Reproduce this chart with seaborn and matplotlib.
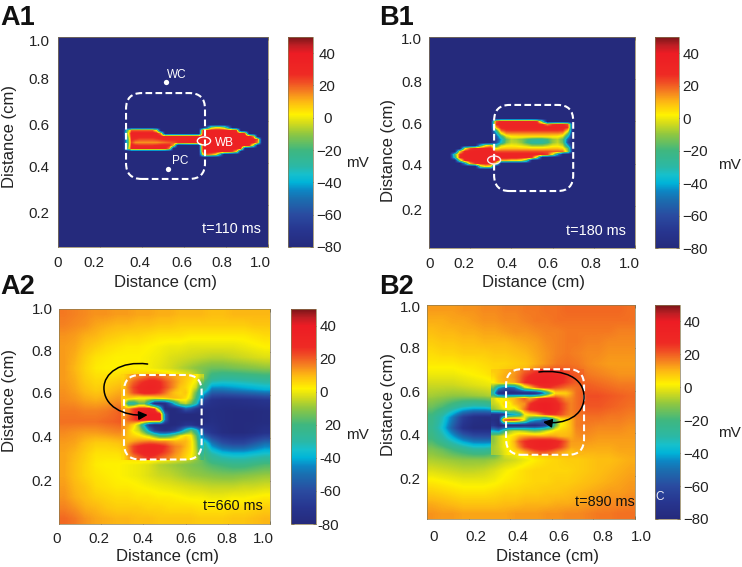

import matplotlib
matplotlib.use('Agg')
import numpy as np
import matplotlib.pyplot as plt
import seaborn as sns
from matplotlib.colors import LinearSegmentedColormap
from matplotlib.patches import FancyBboxPatch, Ellipse, FancyArrowPatch
from matplotlib.path import Path
from matplotlib.transforms import Affine2D

# ------------------------------------------------------------
# DATA (membrane potential in mV, rows run top to bottom)
# ------------------------------------------------------------
N = -80
cbar_values = [40, 20, 0, -20, -40, -60, -80]
cbar_labels = ['40', '20', '0', '\u221220', '\u221240', '\u221260', '\u221280']
cbar_labels_a2 = ['40', '20', '0', '20', '-40', '-60', '-80']
axis_values = [0, 0.2, 0.4, 0.6, 0.8, 1.0]
x_labels = ['0', '0.2', '0.4', '0.6', '0.8', '1.0']
y_values = [1.0, 0.8, 0.6, 0.4, 0.2]
y_labels = ['1.0', '0.8', '0.6', '0.4', '0.2']

resting_field = [[N] * 20] * 20

a1_detail = [
    [N, N, N, N, N, N, N, N, N, N, N, N, N, N, N, N, N, N, N, N, N, N, N, N, N, N, N, N, N, N, N, N, N, N],
    [N, N, N, N, N, N, N, N, N, N, N, N, N, N, N, N, N, N, N, N, -50, -10, 0, 0, -10, -40, N, N, N, N, N, N, N, N],
    [N, -20, 20, 20, 20, 20, 20, 20, 0, N, N, N, N, N, N, N, N, N, N, 28, 34, 34, 34, 34, 34, 34, 32, 24, N, N, N, N, N, N],
    [N, -10, 34, 34, 34, 34, 34, 34, 32, 12, N, N, N, N, N, N, N, N, N, 32, 35, 35, 35, 35, 35, 35, 35, 34, 32, 24, N, N, N, N],
    [N, -20, 32, 32, 30, 30, 30, 30, 32, 32, 30, 32, 32, 32, 32, 32, 32, 32, 32, 34, 35, 35, 35, 35, 35, 35, 35, 35, 35, 34, 32, 15, N, N],
    [N, -30, 28, 25, 22, 22, 22, 22, 24, 26, 28, 28, 28, 28, 30, 30, 32, 32, 32, 34, 35, 35, 35, 35, 35, 35, 35, 35, 35, 35, 34, 32, 20, N],
    [N, -30, 24, 14, 14, 14, 14, 14, 14, 16, 18, 20, 22, 26, 28, 30, 32, 32, 32, 34, 35, 35, 35, 35, 35, 35, 35, 35, 35, 35, 34, 30, 15, N],
    [N, -30, 30, 28, 26, 26, 26, 26, 28, 30, 30, 28, 10, N, N, N, N, N, N, 32, 35, 35, 35, 35, 35, 35, 35, 35, 35, 34, 28, -10, N, N],
    [N, -20, 34, 34, 34, 34, 34, 34, 34, 34, 32, 15, N, N, N, N, N, N, N, 32, 35, 35, 35, 35, 35, 35, 35, 34, 30, N, N, N, N, N],
    [N, N, N, N, N, N, N, N, N, N, N, N, N, N, N, N, N, N, N, 30, 34, 34, 34, 34, 34, 32, 24, 5, N, N, N, N, N, N],
    [N, N, N, N, N, N, N, N, N, N, N, N, N, N, N, N, N, N, N, 5, 20, 15, 5, -30, N, N, N, N, N, N, N, N, N, N],
    [N, N, N, N, N, N, N, N, N, N, N, N, N, N, N, N, N, N, N, N, N, N, N, N, N, N, N, N, N, N, N, N, N, N],
]

b1_detail = [
    [N, N, N, N, N, N, N, N, N, N, N, N, N, N, N, N, N, N, N, N, N, N, N, N, N, N],
    [N, N, N, N, N, N, N, N, N, 20, 30, 30, 30, 30, 30, 30, 30, 25, -20, N, N, N, N, N, N, N],
    [N, N, N, N, N, N, N, N, N, 25, 32, 32, 32, 32, 32, 32, 32, 32, 28, 15, 25, 28, 28, 22, N, N],
    [N, N, N, N, N, N, N, N, N, 10, 30, 32, 32, 32, 32, 32, 32, 32, 32, 32, 32, 32, 32, 25, N, N],
    [N, N, N, N, N, N, N, N, N, -25, 18, 25, 26, 26, 26, 26, 26, 26, 26, 26, 26, 26, 25, 5, N, N],
    [N, N, N, N, N, N, N, N, N, -45, 0, 14, 15, 15, 15, 15, 15, 15, 15, 15, 15, 15, 12, -15, N, N],
    [N, N, N, N, N, N, N, N, N, -60, -25, -2, 3, 4, 5, 5, 5, 5, 5, 5, 4, 3, -2, -35, N, N],
    [N, N, N, N, N, N, N, N, N, -65, -40, -15, -6, -8, -12, -18, -24, -26, -26, -20, -10, -6, -16, -55, N, N],
    [N, N, N, N, N, N, N, N, N, -60, -35, -12, -5, -6, -10, -20, -28, -30, -28, -22, -10, -5, -14, -60, N, N],
    [N, N, N, N, N, N, -30, 0, 10, -30, -5, 0, 1, 0, -2, -5, -10, -10, -10, -6, -1, 0, -5, -40, N, N],
    [N, N, N, 0, 22, 28, 30, 30, 30, 0, 8, 9, 9, 9, 8, 8, 7, 7, 7, 8, 9, 9, 6, -15, N, N],
    [N, N, 5, 30, 32, 33, 33, 33, 33, 22, 22, 22, 22, 22, 22, 22, 22, 22, 22, 22, 20, 20, 18, -10, N, N],
    [N, -20, 25, 33, 33, 33, 33, 33, 33, 32, 32, 32, 32, 32, 32, 32, 32, 32, 30, 25, 0, -40, N, N, N, N],
    [N, -30, 28, 33, 33, 33, 33, 33, 33, 32, 33, 33, 33, 33, 30, 30, 25, -10, N, N, N, N, N, N, N, N],
    [N, N, -10, 28, 32, 33, 33, 33, 33, 32, 10, 10, 5, 5, 0, -20, N, N, N, N, N, N, N, N, N, N],
    [N, N, N, -40, 10, 25, 30, 30, 28, 5, N, N, N, N, N, N, N, N, N, N, N, N, N, N, N, N],
    [N, N, N, N, N, N, -10, 5, 0, N, N, N, N, N, N, N, N, N, N, N, N, N, N, N, N, N],
    [N, N, N, N, N, N, N, N, N, N, N, N, N, N, N, N, N, N, N, N, N, N, N, N, N, N],
]

a2_field = [
    [17, 16, 15, 14, 14, 13, 13, 12, 12, 11, 11, 10, 10, 10, 9, 9, 10, 10, 10, 10],
    [16, 15, 14, 12, 11, 10, 10, 9, 9, 8, 8, 7, 7, 7, 7, 7, 7, 7, 8, 8],
    [14, 13, 11, 10, 8, 7, 6, 6, 5, 4, 4, 4, 3, 3, 3, 3, 3, 3, 4, 5],
    [13, 12, 9, 7, 5, 4, 3, 3, 2, 1, 0, 0, -1, -1, -1, -1, -1, 0, 1, 2],
    [13, 11, 7, 4, 3, 2, 2, 2, 1, 0, -2, -3, -4, -5, -6, -6, -5, -4, -3, -2],
    [13, 10, 6, 3, 2, 2, 3, 2, 1, -1, -3, -6, -9, -12, -14, -14, -13, -12, -11, -10],
    [13, 11, 7, 5, 5, 6, 8, 10, 12, 12, 10, 6, 2, -10, -25, -28, -28, -27, -26, -25],
    [14, 12, 9, 7, 8, 10, 12, 14, 15, 15, 12, 8, 2, -20, -48, -48, -46, -44, -42, -40],
    [15, 14, 12, 11, 12, 14, 14, 14, 10, 0, -20, -40, -50, -60, -72, -74, -74, -73, -72, -70],
    [17, 17, 16, 16, 17, 19, 22, 25, 28, 20, -60, -70, -75, -78, -76, -77, -78, -78, -78, -77],
    [18, 18, 18, 18, 19, 20, 22, 25, 28, 20, -60, -70, -75, -78, -75, -77, -78, -78, -78, -77],
    [15, 14, 13, 13, 14, 15, 15, 10, 5, 0, -10, -20, -40, -60, -70, -76, -78, -78, -76, -72],
    [13, 12, 9, 7, 7, 8, 10, 15, 20, 20, 15, 10, 5, -20, -48, -58, -62, -62, -56, -50],
    [12, 10, 7, 4, 4, 4, 6, 10, 12, 12, 10, 5, 0, -15, -30, -36, -38, -38, -36, -34],
    [12, 9, 6, 3, 2, 2, 1, 0, -2, -6, -8, -10, -12, -14, -18, -20, -22, -22, -20, -18],
    [12, 9, 6, 4, 3, 2, 1, 0, -2, -4, -5, -7, -9, -10, -11, -12, -12, -11, -10, -9],
    [13, 10, 8, 5, 4, 3, 3, 2, 1, 0, -1, -2, -3, -4, -5, -5, -5, -4, -4, -3],
    [14, 11, 9, 7, 6, 5, 5, 4, 4, 3, 3, 2, 1, 1, 0, 0, 1, 1, 2, 3],
    [16, 14, 11, 10, 8, 7, 7, 7, 6, 6, 5, 5, 5, 4, 4, 4, 5, 5, 6, 7],
    [19, 17, 14, 12, 11, 10, 10, 9, 9, 8, 8, 8, 8, 7, 7, 7, 8, 8, 9, 10],
]

a2_detail = [
    [6, 10, 14, 16, 18, 20, 20, 18, 16, 14, 12, 10, 8, 6, 3, -5],
    [7, 15, 20, 24, 27, 30, 30, 27, 22, 18, 14, 10, 7, 4, 0, -15],
    [8, 17, 24, 28, 31, 33, 32, 28, 23, 18, 13, 8, 6, 2, -4, -25],
    [9, 15, 22, 26, 30, 30, 28, 24, 18, 12, 8, 6, 8, 0, -15, -35],
    [8, 8, 5, 2, 2, 2, 4, 6, 8, 10, 10, 8, 5, -3, -20, -45],
    [8, -30, -30, -15, -15, -40, -75, -78, -75, -55, -30, -10, -5, -15, -30, -60],
    [12, 15, 25, 30, 30, 33, 25, -20, -78, -78, -78, -70, -55, -60, -70, -75],
    [13, 18, 25, 33, 36, 37, 38, 35, -50, -78, -78, -78, -78, -78, -78, -78],
    [14, 20, 25, 33, 36, 38, 38, 38, -50, -78, -78, -78, -78, -78, -78, -78],
    [14, 12, 5, -10, -40, -70, -78, -78, -78, -78, -78, -75, -70, -70, -75, -78],
    [14, 8, 0, -5, -20, -45, -65, -72, -75, -72, -65, -50, -30, -15, -30, -55],
    [12, 8, 6, 4, 0, -5, -15, -25, -25, -20, -10, 0, 5, 2, -15, -45],
    [10, 10, 12, 14, 15, 16, 15, 14, 14, 12, 10, 10, 10, 5, -10, -40],
    [8, 16, 24, 28, 32, 33, 33, 30, 26, 20, 16, 14, 10, 5, -8, -35],
    [6, 15, 24, 28, 32, 33, 32, 28, 24, 20, 15, 12, 8, 4, -6, -28],
    [5, 12, 16, 20, 24, 26, 24, 20, 18, 15, 12, 10, 6, 2, -6, -20],
]

b2_field = [
    [13, 13, 13, 14, 14, 15, 15, 16, 16, 17, 17, 18, 18, 19, 19, 19, 19, 19, 19, 18],
    [11, 11, 12, 12, 13, 14, 14, 15, 15, 16, 17, 17, 18, 18, 18, 18, 18, 18, 18, 18],
    [9, 10, 10, 11, 11, 12, 12, 13, 14, 14, 15, 16, 16, 17, 17, 17, 17, 17, 16, 16],
    [7, 8, 8, 9, 9, 10, 10, 10, 11, 12, 13, 15, 16, 17, 17, 16, 16, 15, 15, 15],
    [5, 6, 6, 7, 7, 7, 8, 8, 9, 10, 12, 14, 16, 17, 16, 15, 15, 14, 14, 14],
    [3, 3, 3, 4, 4, 5, 6, 6, 7, 8, 11, 14, 17, 18, 17, 15, 14, 13, 13, 13],
    [0, 0, 0, 1, 2, 3, 5, 8, 10, 12, 20, 25, 25, 22, 20, 17, 16, 15, 14, 14],
    [-4, -4, -4, -3, -2, -1, 0, 5, 8, 10, 15, 15, 15, 15, 19, 20, 19, 18, 17, 17],
    [-8, -9, -10, -10, -9, -8, -6, 0, 5, 10, 15, 20, 20, 20, 20, 22, 22, 21, 20, 19],
    [-14, -18, -24, -30, -33, -32, -28, -5, 0, 10, 15, 20, 20, 20, 20, 21, 21, 20, 19, 18],
    [-22, -32, -48, -66, -74, -76, -76, -30, 0, 5, 10, 15, 15, 18, 18, 18, 18, 17, 17, 16],
    [-24, -36, -55, -72, -78, -78, -78, -75, -60, -30, -20, -20, 5, 15, 17, 16, 15, 15, 15, 14],
    [-20, -28, -38, -48, -54, -55, -55, 0, 5, 10, 15, 15, 14, 15, 15, 14, 13, 13, 13, 13],
    [-12, -15, -20, -24, -28, -28, -25, 0, 3, 8, 12, 12, 12, 12, 12, 11, 11, 11, 12, 12],
    [-7, -8, -9, -10, -10, -10, -8, -5, -3, 0, 3, 5, 6, 7, 7, 8, 9, 9, 10, 11],
    [-2, -3, -4, -5, -5, -4, -2, 1, 3, 5, 6, 6, 6, 6, 7, 8, 9, 10, 11, 12],
    [3, 2, 1, 0, 0, 0, 1, 3, 4, 5, 6, 6, 7, 7, 8, 9, 10, 11, 12, 13],
    [7, 6, 5, 4, 4, 4, 5, 6, 6, 7, 7, 8, 8, 9, 10, 11, 12, 13, 13, 14],
    [11, 10, 9, 8, 8, 8, 8, 9, 9, 10, 10, 10, 11, 11, 12, 13, 14, 15, 15, 16],
    [14, 13, 13, 12, 12, 12, 12, 12, 13, 13, 13, 14, 14, 15, 15, 16, 17, 17, 18, 18],
]

b2_detail = [
    [7, 8, 10, 11, 13, 16, 20, 22, 25, 27, 28, 27, 26, 25, 23, 21, 20, 19],
    [5, 9, 11, 12, 14, 18, 24, 28, 31, 33, 34, 33, 31, 29, 26, 23, 21, 20],
    [2, 8, 10, 10, 12, 18, 26, 30, 33, 35, 35, 33, 31, 28, 25, 22, 20, 20],
    [-15, -40, -50, -55, -50, -30, -5, 5, 15, 22, 25, 25, 22, 20, 18, 17, 18, 19],
    [-30, -75, -78, -78, -78, -78, -78, -78, -75, -65, -40, -15, 5, 6, 7, 12, 18, 20],
    [-3, 5, 0, 8, 10, 15, 20, 12, 18, 25, 28, 28, 25, 20, 15, 15, 18, 20],
    [-5, -2, 6, 0, 9, 12, 14, 25, 32, 36, 37, 35, 30, 25, 20, 16, 18, 20],
    [-10, -6, 0, 3, -2, 8, 18, 28, 32, 35, 37, 35, 30, 25, 20, 16, 18, 19],
    [-72, -72, -70, -45, -40, -30, 0, 5, 8, 14, 22, 25, 25, 22, 18, 15, 17, 18],
    [-75, -78, 25, 28, 28, 20, 0, -30, -40, -45, -60, -45, -20, 0, 5, 10, 16, 17],
    [-70, -78, -78, -78, -78, -78, -75, -75, -75, -70, -65, -45, -15, 2, 5, 10, 16, 17],
    [-40, -45, -25, -10, -5, -5, -8, -12, -15, -12, -5, 0, 5, 7, 8, 10, 15, 16],
    [-10, -5, 0, 2, 5, 10, 12, 13, 13, 12, 12, 13, 12, 10, 10, 11, 14, 15],
    [-10, -5, 0, 3, 10, 20, 26, 30, 32, 34, 34, 33, 30, 26, 20, 13, 13, 13],
    [-8, -5, 0, 3, 8, 16, 24, 28, 32, 34, 34, 32, 28, 24, 18, 12, 12, 12],
    [-8, -6, -2, 2, 4, 6, 10, 14, 18, 20, 20, 18, 15, 12, 10, 8, 10, 10],
]

# value -> colour stops of the colour bar
cmap_values = [-80, -70, -60, -50, -45, -40, -35, -30, -20, -10, -3, 2, 10, 16, 22, 27, 40, 45, 50]
cmap_colors = ['#252a7c', '#27358f', '#2a4ba0', '#1a6fb0', '#0d86c4', '#00b4d8', '#16c0cc', '#2bb8a5',
               '#3fb77f', '#8fc741', '#d6dc1a', '#fff200', '#fdb813', '#f58220', '#f04e24', '#ee2a24',
               '#ed1c24', '#bd1e24', '#7a1518']

# ------------------------------------------------------------
# STYLE
# ------------------------------------------------------------
sns.set_style('white')
plt.rcParams['font.family'] = ['Liberation Sans', 'DejaVu Sans']
plt.rcParams['text.color'] = '#222222'
plt.rcParams['axes.labelcolor'] = '#222222'
plt.rcParams['xtick.color'] = '#222222'
plt.rcParams['ytick.color'] = '#222222'

W, H = 742, 567
fig = plt.figure(figsize=(W / 100, H / 100), dpi=100, facecolor='white')
px = Affine2D().scale(1, -1).translate(0, H)  # picture pixels, y down

cm = LinearSegmentedColormap.from_list(
    'vm', [((v + 80) / 130, c) for v, c in zip(cmap_values, cmap_colors)], N=512)


def add_axes(x0, y0, x1, y1):
    return fig.add_axes([x0 / W, 1 - y1 / H, (x1 - x0) / W, (y1 - y0) / H])


def draw_panel(box, cbox, field, detail, detail_span, xoff, yoff, xpad, ylab_pad, clabels, cdx):
    ax = add_axes(*box)
    cax = add_axes(*cbox)
    n = len(field)
    sns.heatmap(field, ax=ax, cbar_ax=cax, cmap=cm, vmin=-80, vmax=50,
                xticklabels=False, yticklabels=False)
    # smooth version of the same field on top of the cells
    ax.imshow(field, cmap=cm, vmin=-80, vmax=50, aspect='auto', extent=(0, n, n, 0),
              interpolation='bilinear', interpolation_stage='data', zorder=1.1)
    if detail is not None:
        x0, x1, y0, y1 = detail_span
        ax.imshow(detail, cmap=cm, vmin=-80, vmax=50, aspect='auto',
                  extent=(x0 * n, x1 * n, (1 - y0) * n, (1 - y1) * n),
                  interpolation='bilinear', interpolation_stage='data', zorder=1.2)
    ax.set_xlim(0, n)
    ax.set_ylim(n, 0)

    for s in ax.spines.values():
        s.set_visible(True)
        s.set_linewidth(0.5)
        s.set_color('#8a7a50')
    ax.set_xticks([v * n for v in axis_values])
    ax.set_xticklabels(x_labels, fontsize=10.8, rotation=0)
    ax.set_yticks([(1 - v) * n for v in y_values])
    ax.set_yticklabels(y_labels, fontsize=10.8, rotation=0)
    ax.tick_params(axis='both', direction='in', length=2, width=0.5,
                   bottom=True, left=True, top=True, right=True)
    ax.tick_params(axis='x', pad=xpad)
    ax.tick_params(axis='y', pad=ylab_pad)
    for lab, dx in zip(ax.get_xticklabels(), xoff):
        lab.set_transform(lab.get_transform() + Affine2D().translate(dx, 0))
    for lab, dy in zip(ax.get_yticklabels(), yoff):
        lab.set_transform(lab.get_transform() + Affine2D().translate(0, -dy))

    cbar = ax.collections[0].colorbar
    cbar.set_ticks(cbar_values)
    cbar.set_ticklabels(clabels, fontsize=10.8)
    cax.tick_params(direction='in', length=2, width=0.5, pad=2.5, right=True, left=True)
    cbar.outline.set_linewidth(0.5)
    cbar.outline.set_edgecolor('#8a7a50')
    for lab, dx in zip(cax.get_yticklabels(), cdx):
        lab.set_transform(lab.get_transform() + Affine2D().translate(dx, 0))
    return ax, cax


def dashed_box(ax, x0, y0, x1, y1):
    ax.add_patch(FancyBboxPatch((x0, y0), x1 - x0, y1 - y0,
                                boxstyle='round,pad=0,rounding_size=0.075',
                                transform=ax.transAxes, fill=False, ec='white', lw=1.5,
                                ls=(0, (3.2, 1.6)), zorder=3))


def labels(ax, xlab, ylab, mv):
    ax.set_xlabel('Distance (cm)', fontsize=12, va='center')
    ax.xaxis.set_label_coords(xlab[0], xlab[1], transform=px)
    ax.set_ylabel('Distance (cm)', fontsize=12, va='center')
    ax.yaxis.set_label_coords(ylab[0], ylab[1], transform=px)
    fig.text(mv[0], mv[1], 'mV', transform=px, fontsize=11, ha='center', va='center')


# ------------------------------------------------------------
# A1
# ------------------------------------------------------------
ax, cax = draw_panel((58, 37, 268, 247), (288, 37, 313, 247), resting_field, a1_detail,
                     (0.30, 0.98, 0.419, 0.589), [0, -6, -2, -2, -4, -8], [3, 0, 3, 4, 7], 6.5, 6,
                     cbar_labels, [2, 2, 7, 0, 0, 0, 0])
labels(ax, (165, 282), (10, 137), (357, 163))
dashed_box(ax, 0.324, 0.324, 0.70, 0.733)
ax.plot([0.513, 0.522], [0.787, 0.371], 'o', color='white', ms=3.8, mec='none',
        transform=ax.transAxes, zorder=3)
ax.text(0.519, 0.82, 'WC', color='white', fontsize=8.5, ha='left', va='center', transform=ax.transAxes, zorder=3)
ax.text(0.543, 0.41, 'PC', color='white', fontsize=8.5, ha='left', va='center', transform=ax.transAxes, zorder=3)
ax.text(0.748, 0.495, 'WB', color='white', fontsize=8.5, ha='left', va='center', transform=ax.transAxes, zorder=3)
ax.add_patch(Ellipse((0.695, 0.505), 0.063, 0.038, transform=ax.transAxes, fill=False,
                     ec='white', lw=1.0, zorder=3))
ax.text(0.967, 0.085, 't=110 ms', color='white', fontsize=10.4, ha='right', va='center',
        transform=ax.transAxes, zorder=3)

# ------------------------------------------------------------
# B1
# ------------------------------------------------------------
ax, cax = draw_panel((429, 37, 635, 248), (655, 37, 679, 248), resting_field, b1_detail,
                     (0.0875, 0.7375, 0.365, 0.62), [1, -6, -5, -5, -3, -6], [2, 2, 2, 1, 4], 6.5, 5,
                     cbar_labels, [0, 0, 0, 0, 0, 0, 0])
labels(ax, (534, 282), (388, 150), (729, 165))
dashed_box(ax, 0.316, 0.27, 0.70, 0.678)
ax.add_patch(Ellipse((0.316, 0.417), 0.063, 0.038, transform=ax.transAxes, fill=False,
                     ec='#fbe6ea', lw=1.0, zorder=3))
ax.text(0.956, 0.08, 't=180 ms', color='white', fontsize=10.4, ha='right', va='center',
        transform=ax.transAxes, zorder=3)

# ------------------------------------------------------------
# A2
# ------------------------------------------------------------
ax, cax = draw_panel((59, 309, 270, 524), (291, 309, 316, 524), a2_field, a2_detail,
                     (0.295, 0.685, 0.2975, 0.6975), [-2, -2, -1, 0, -1, -7], [-1, -1, -2, -1, 0], 5.8, 4.5,
                     cbar_labels_a2, [0, 0, 0, 5, 0, 0, -2])
labels(ax, (168, 557), (10, 400), (357, 435))
dashed_box(ax, 0.308, 0.30, 0.676, 0.693)
arrow_a2 = Path([(0.42, 0.744), (0.29, 0.76), (0.213, 0.70), (0.213, 0.633),
                 (0.213, 0.55), (0.30, 0.50), (0.42, 0.507)],
                [Path.MOVETO, Path.CURVE4, Path.CURVE4, Path.CURVE4, Path.CURVE4, Path.CURVE4, Path.CURVE4])
ax.add_patch(FancyArrowPatch(path=arrow_a2, arrowstyle='-|>', mutation_scale=13, color='black',
                             lw=1.1, transform=ax.transAxes, zorder=4, shrinkA=0, shrinkB=0))
ax.text(0.967, 0.085, 't=660 ms', color='#111111', fontsize=10.4, ha='right', va='center',
        transform=ax.transAxes, zorder=3)

# ------------------------------------------------------------
# B2
# ------------------------------------------------------------
ax, cax = draw_panel((427, 305, 635, 519), (655, 305, 680, 519), b2_field, b2_detail,
                     (0.31, 0.755, 0.30, 0.70), [7, 7, 8, 7, 9, 6], [2, 0, 1, 1, 2], 8, 4.5,
                     cbar_labels, [0, 0, 0, 0, 0, 0, 0])
labels(ax, (547, 557), (388, 405), (729, 433))
dashed_box(ax, 0.38, 0.30, 0.755, 0.70)
arrow_b2 = Path([(0.538, 0.687), (0.66, 0.70), (0.755, 0.66), (0.755, 0.57),
                 (0.755, 0.48), (0.66, 0.44), (0.558, 0.453)],
                [Path.MOVETO, Path.CURVE4, Path.CURVE4, Path.CURVE4, Path.CURVE4, Path.CURVE4, Path.CURVE4])
ax.add_patch(FancyArrowPatch(path=arrow_b2, arrowstyle='-|>', mutation_scale=13, color='black',
                             lw=1.1, transform=ax.transAxes, zorder=4, shrinkA=0, shrinkB=0))
ax.text(0.997, 0.08, 't=890 ms', color='#111111', fontsize=10.4, ha='right', va='center',
        transform=ax.transAxes, zorder=3)
fig.text(660, 497, 'C', transform=px, color='white', fontsize=8.5, ha='center', va='center', alpha=0.9)

# ------------------------------------------------------------
# PANEL LETTERS
# ------------------------------------------------------------
for letter, x, y in [('A1', 0, 25), ('B1', 379, 25), ('A2', 0, 294), ('B2', 379, 294)]:
    fig.text(x, y, letter, transform=px, fontsize=19.5, fontweight='bold', color='#111111',
             ha='left', va='baseline')

plt.savefig('out.png', dpi=100)
